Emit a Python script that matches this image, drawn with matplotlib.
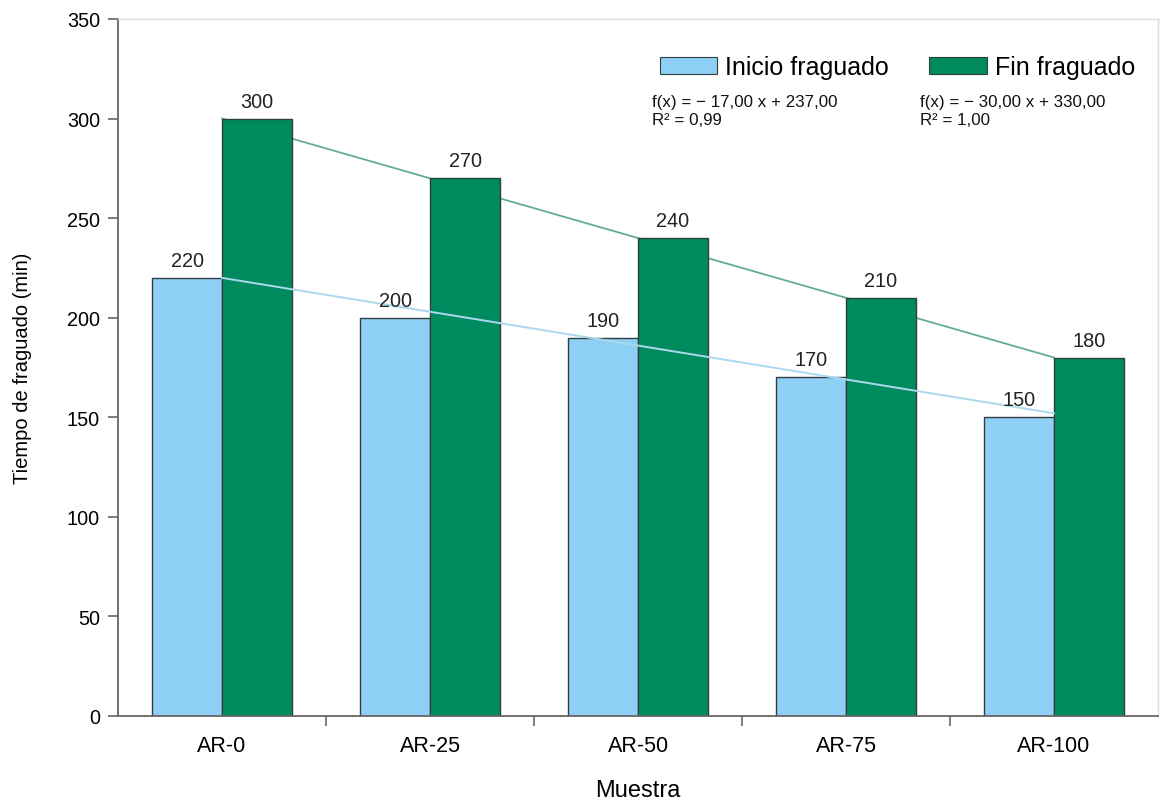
import matplotlib.pyplot as plt
import numpy as np
from matplotlib.patches import Patch

plt.rcParams['font.family'] = ['Liberation Sans', 'DejaVu Sans']

muestras = ['AR-0', 'AR-25', 'AR-50', 'AR-75', 'AR-100']
inicio = [220, 200, 190, 170, 150]
fin = [300, 270, 240, 210, 180]

c_inicio = '#8ecff5'
c_fin = '#008b5f'
c_tr_inicio = '#aad9ee'
c_tr_fin = '#62ad90'
edge = '#2f3f3f'

x = np.arange(1, len(muestras) + 1)
w = 0.3365

fig = plt.figure(figsize=(11.62, 8.03), dpi=100)
ax = fig.add_axes([0.1016, 0.1071, 0.8950, 0.8680])

# linear trends (least squares)
k_i, b_i = np.polyfit(x, inicio, 1)
k_f, b_f = np.polyfit(x, fin, 1)
r2_i = np.corrcoef(x, inicio)[0, 1] ** 2
r2_f = np.corrcoef(x, fin)[0, 1] ** 2

ax.plot(x, k_f * x + b_f, color=c_tr_fin, lw=1.3, zorder=1)
ax.bar(x - w / 2, inicio, w, color=c_inicio, edgecolor=edge, linewidth=1.0, zorder=2)
ax.bar(x + w / 2, fin, w, color=c_fin, edgecolor=edge, linewidth=1.0, zorder=2)
ax.plot(x, k_i * x + b_i, color=c_tr_inicio, lw=1.4, zorder=3)

for xi, v in zip(x, inicio):
    ax.text(xi - w / 2, v + 4, f'{v}', ha='center', va='bottom', fontsize=14.3, color='#222')
for xi, v in zip(x, fin):
    ax.text(xi + w / 2, v + 4, f'{v}', ha='center', va='bottom', fontsize=14.3, color='#222')

ax.set_xlim(0.5, 5.5)
ax.set_ylim(0, 350)
ax.set_yticks(np.arange(0, 351, 50))
ax.set_xticks(x)
ax.set_xticklabels(muestras, fontsize=15.5)
ax.set_xticks(np.arange(1.5, 5.5, 1), minor=True)
ax.tick_params(axis='x', which='major', length=0, pad=14)
ax.tick_params(axis='x', which='minor', length=7, width=1.2, color='#666')
ax.tick_params(axis='y', length=7, width=1.2, color='#666', labelsize=14.3, pad=6)

for s in ['left', 'bottom']:
    ax.spines[s].set_color('#666')
    ax.spines[s].set_linewidth(1.3)
for s in ['top', 'right']:
    ax.spines[s].set_color('#dddddd')
    ax.spines[s].set_linewidth(1.0)

ax.set_ylabel('Tiempo de fraguado (min)', fontsize=14.5, labelpad=25)
ax.set_xlabel('Muestra', fontsize=17, labelpad=16)

handles = [Patch(facecolor=c_inicio, edgecolor=edge, linewidth=0.8),
           Patch(facecolor=c_fin, edgecolor=edge, linewidth=0.8)]
ax.legend(handles, ['Inicio fraguado', 'Fin fraguado'], ncol=2, frameon=False,
          fontsize=18, loc='center left', bbox_to_anchor=(0.521, 0.931),
          borderaxespad=0, borderpad=0,
          handlelength=2.3, handleheight=0.7, handletextpad=0.32, columnspacing=1.6)


def eq_text(k, b, r2):
    sign = '−' if k < 0 else ''
    return (f'f(x) = {sign} {abs(k):.2f} x + {b:.2f}'.replace('.', ',') + '\n'
            + f'R² = {r2:.2f}'.replace('.', ','))


ax.text(0.513, 0.893, eq_text(k_i, b_i, r2_i), transform=ax.transAxes,
        fontsize=12.2, va='top', ha='left', linespacing=1.3, color='#111')
ax.text(0.771, 0.893, eq_text(k_f, b_f, r2_f), transform=ax.transAxes,
        fontsize=12.2, va='top', ha='left', linespacing=1.3, color='#111')

fig.savefig('out.png', dpi=100)
